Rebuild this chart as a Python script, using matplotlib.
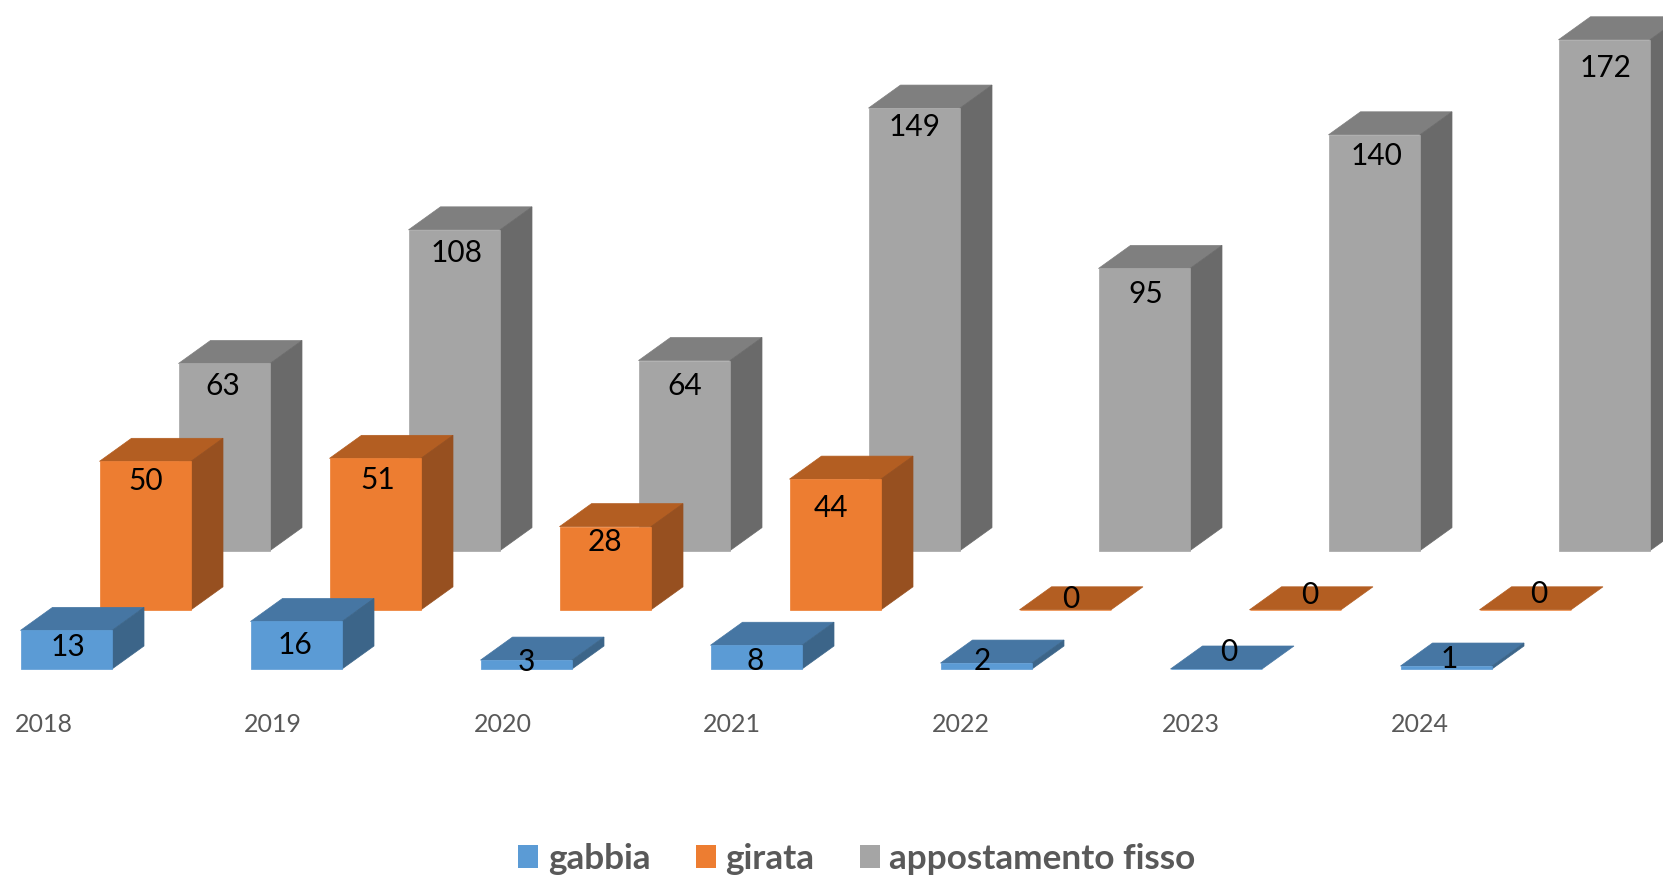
import numpy as np
import matplotlib
matplotlib.use("Agg")
import matplotlib.pyplot as plt
from matplotlib.patches import Polygon, Patch

plt.rcParams['font.family'] = ['Lato', 'DejaVu Sans']

# ==============================
# Data
# ==============================
years = ["2018", "2019", "2020", "2021", "2022", "2023", "2024"]
gabbia = [13, 16, 3, 8, 2, 0, 1]
girata = [50, 51, 28, 44, 0, 0, 0]
appostamento = [63, 108, 64, 149, 95, 140, 172]

# ==============================
# Layout, in pixels of the 1663x876 picture
# ==============================
W, H = 1663, 876
step_px = 230.0      # distance between years
unit_px = 2.97       # pixels per unit of value
bar_px = 91.5
x0_px = 66.25        # centre of first blue bar
base_px = 669.0      # baseline of blue row
row_dx_px = 79.0     # shift from one series row to the next
row_dy_px = 59.2
depth_dx_px = 32.0   # 3d depth of a bar
depth_dy_px = 23.0
tick_step_px = 229.3

bar_w = bar_px / step_px
row_dx = row_dx_px / step_px
row_dy = row_dy_px / unit_px
depth_dx = depth_dx_px / step_px
depth_dy = depth_dy_px / unit_px

# label nudges (x px, y px below bar top)
gabbia_off = [(2, 17), (-1, 24), (0, 2), (-1, 16), (-4, -2), (12, -17), (3, -7)]
girata_off = [(0, 20), (2, 22), (0, 15), (-4, 29), (5, -11), (14, -15), (13, -16)]
appost_off = [(-2, 23), (2, 23), (0, 25), (0, 19), (1, 26), (2, 21), (1, 28)]

series = [
    ("appostamento fisso", appostamento, 2, appost_off, "#A5A5A5", "#7F7F7F", "#6A6A6A"),
    ("girata", girata, 1, girata_off, "#ED7D31", "#B35E22", "#975020"),
    ("gabbia", gabbia, 0, gabbia_off, "#5B9BD5", "#4676A3", "#3C6589"),
]

# ==============================
# Plot setup
# ==============================
fig = plt.figure(figsize=(W / 100, H / 100), dpi=100)
ax = fig.add_axes([0, 0, 1, 1])
ax.set_xlim(-x0_px / step_px, (W - x0_px) / step_px)
ax.set_ylim((base_px - H) / unit_px, base_px / unit_px)
ax.axis("off")

x = np.arange(len(years))

for name, values, row, offs, front, top, side in series:
    xs = x + row * row_dx
    bottom = row * row_dy
    for xi, v in zip(xs, values):
        left, right = xi - bar_w / 2, xi + bar_w / 2
        y0, y1 = bottom, bottom + v
        ax.add_patch(Polygon([(left, y1), (right, y1),
                              (right + depth_dx, y1 + depth_dy), (left + depth_dx, y1 + depth_dy)],
                             facecolor=top, edgecolor=top, lw=0.5))
        if v > 0:
            ax.add_patch(Polygon([(right, y0), (right + depth_dx, y0 + depth_dy),
                                  (right + depth_dx, y1 + depth_dy), (right, y1)],
                                 facecolor=side, edgecolor=side, lw=0.5))
    ax.bar(xs, values, width=bar_w, bottom=bottom, color=front, edgecolor=front, linewidth=0.5)

# value labels go on top of every bar
for name, values, row, offs, front, top, side in series:
    xs = x + row * row_dx
    for xi, v, (ox, oy) in zip(xs, values, offs):
        ax.annotate(str(v), (xi, row * row_dy + v), xytext=(ox * 0.72, -oy * 0.72),
                    textcoords="offset points", ha="center", va="center",
                    fontsize=21.5, color="black", zorder=5)

for xi, year in zip(x, years):
    tick_x = (44 + xi * tick_step_px - x0_px) / step_px
    ax.text(tick_x, (base_px - 725) / unit_px, year, ha="center", va="center",
            fontsize=18, color="#595959")

handles = [Patch(facecolor=s[4], label=s[0]) for s in series[::-1]]
ax.legend(handles=handles, loc="center", bbox_to_anchor=(0.5153, 0.0195), ncol=3, frameon=False,
          prop={"size": 25.3, "weight": "bold"}, labelcolor="#595959",
          handlelength=0.565, handleheight=0.6, handletextpad=0.27, columnspacing=1.30,
          borderpad=0, borderaxespad=0)

fig.savefig("out.png", dpi=100)
